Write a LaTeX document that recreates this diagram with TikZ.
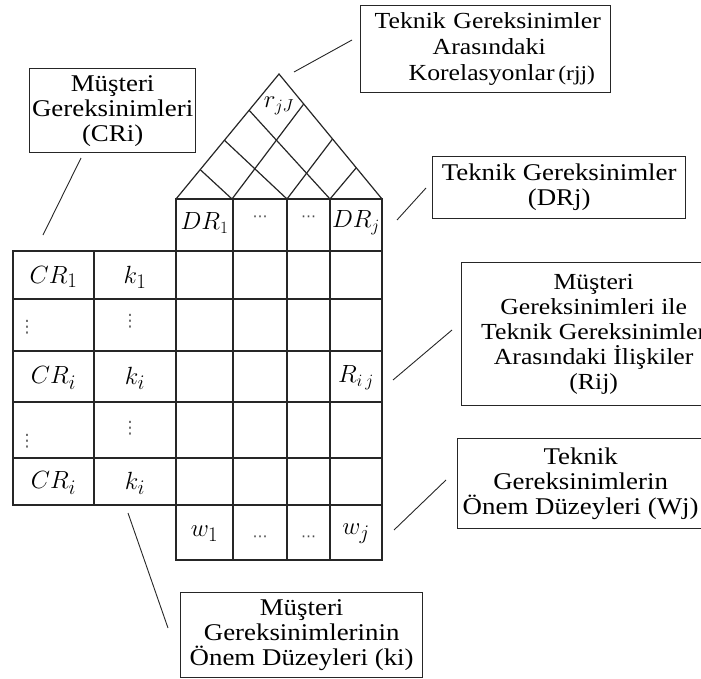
\documentclass[tikz,border=0pt]{standalone}
\usepackage{fontspec}
\setmainfont{Liberation Serif}[FakeStretch=1.12]
\newfontfamily\symfont{DejaVu Sans}
\usetikzlibrary{calc}
\begin{document}
\begin{tikzpicture}[x=1pt,y=-1pt,
  gridline/.style={line width=1.4pt, draw=black!85, line cap=rect},
  roofline/.style={line width=1.2pt, draw=black!85},
  lbl/.style={draw=black!85, line width=1.3pt, align=center, inner sep=0pt,
              anchor=north west, font=\fontsize{24}{25}\selectfont},
  conn/.style={line width=0.9pt, draw=black!85},
  mth/.style={inner sep=0pt, text=black, font=\fontsize{30}{30}\selectfont},
  mths/.style={inner sep=0pt, text=black, font=\fontsize{27}{27}\selectfont},
  vdotn/.style={inner sep=0pt, text=black!65, font=\symfont\fontsize{17}{17}\selectfont},
  hdotn/.style={inner sep=0pt, text=black!70, font=\symfont\fontsize{15}{15}\selectfont}]
\useasboundingbox (0,0) rectangle (701,679);
\clip (0,0) rectangle (701,679);

% ---------- roof ----------
\coordinate (BL) at (176,199);
\coordinate (BR) at (382,199);
\coordinate (apex) at (279,74);
\coordinate (B1) at (232,199);
\coordinate (B2) at (287,199);
\coordinate (B3) at (330,199);
\coordinate (L1) at ($(BL)!0.235!(apex)$);
\coordinate (L2) at ($(BL)!0.47!(apex)$);
\coordinate (L3) at ($(BL)!0.71!(apex)$);
\coordinate (R1) at ($(BR)!0.76!(apex)$);
\coordinate (R2) at ($(BR)!0.48!(apex)$);
\coordinate (R3) at ($(BR)!0.25!(apex)$);
\draw[roofline] (BL) -- (apex) -- (BR);
\draw[roofline] (B1) -- (L1) (B2) -- (L2) (B3) -- (L3);
\draw[roofline] (B1) -- (R1) (B2) -- (R2) (B3) -- (R3);

% ---------- grid ----------
\draw[gridline] (176,199) -- (382,199);
\foreach \yy in {251,299,351,402,458,505} \draw[gridline] (13,\yy) -- (382,\yy);
\draw[gridline] (176,560) -- (382,560);
\foreach \xx in {13,94} \draw[gridline] (\xx,251) -- (\xx,505);
\foreach \xx in {176,233,287,330,382} \draw[gridline] (\xx,199) -- (\xx,560);

% ---------- cell labels ----------
\node[mths] (dr1) at (204.5,223) {$DR_1$};
\node[hdotn] (hd1) at (260,219) {⋯};
\node[hdotn] (hd2) at (308.5,219) {⋯};
\node[mths] (drj) at (356,223) {$DR_j$};
\node[inner sep=0pt, font=\fontsize{24}{24}\selectfont] (rjJ) at (279,106) {$r_{jJ}$};

\node[mth] (cr1) at (53.5,277) {$CR_1$};
\node[mth] (k1) at (135,277) {$k_1$};
\node[vdotn] (v1) at (27,327) {⋮};
\node[vdotn] (v2) at (130,321) {⋮};
\node[mth] (cri) at (53.5,378) {$CR_i$};
\node[mth] (ki) at (135,378) {$k_i$};
\node[mths] (rij) at (356,378) {$R_{i\,j}$};
\node[vdotn] (v3) at (27,441) {⋮};
\node[vdotn] (v4) at (130,428) {⋮};
\node[mth] (cri2) at (53.5,483) {$CR_i$};
\node[mth] (ki2) at (135,483) {$k_i$};

\node[mth] (w1) at (204.5,534) {$w_1$};
\node[hdotn] (wd1) at (260,539) {⋯};
\node[hdotn] (wd2) at (308.5,539) {⋯};
\node[mth] (wj) at (356,534) {$w_j$};

% ---------- label boxes ----------
\node[lbl, align=left, inner xsep=14pt, text width=222pt,
      minimum width=250pt, minimum height=87pt,
      font=\fontsize{23}{26}\selectfont] (boxr) at (360,5)
  {\mbox{Teknik Gereksinimler}\\\mbox{\hspace*{58pt}Arasındaki}\\\mbox{\hspace*{34pt}Korelasyonlar\,{\fontsize{21}{21}\selectfont(rjj)}}};
\node[lbl, minimum width=166pt, minimum height=84pt] (boxcr) at (29,68)
  {Müşteri\\Gereksinimleri\\(CRi)};
\node[lbl, minimum width=253pt, minimum height=62pt] (boxdr) at (432,156)
  {Teknik Gereksinimler\\(DRj)};
\node[lbl, minimum width=264pt, minimum height=143pt,
      font=\fontsize{23}{25}\selectfont] (boxrij) at (461,262)
  {Müşteri\\Gereksinimleri ile\\Teknik Gereksinimler\\Arasındaki İlişkiler\\(Rij)};
\node[lbl, minimum width=246pt, minimum height=90pt] (boxw) at (457,438)
  {Teknik\\Gereksinimlerin\\Önem Düzeyleri (Wj)};
\node[lbl, minimum width=242pt, minimum height=85pt] (boxk) at (180,592)
  {Müşteri\\Gereksinimlerinin\\Önem Düzeyleri (ki)};

% ---------- connectors ----------
\coordinate (c1a) at (294,72);  \coordinate (c1b) at (352,40);
\coordinate (c2a) at (81,158);  \coordinate (c2b) at (43,235);
\coordinate (c3a) at (397,220); \coordinate (c3b) at (426,188);
\coordinate (c4a) at (393,380); \coordinate (c4b) at (452,330);
\coordinate (c5a) at (394,530); \coordinate (c5b) at (446,480);
\coordinate (c6a) at (128,513); \coordinate (c6b) at (168,628);
\draw[conn] (c1a) -- (c1b);
\draw[conn] (c2a) -- (c2b);
\draw[conn] (c3a) -- (c3b);
\draw[conn] (c4a) -- (c4b);
\draw[conn] (c5a) -- (c5b);
\draw[conn] (c6a) -- (c6b);
\end{tikzpicture}
\end{document}
